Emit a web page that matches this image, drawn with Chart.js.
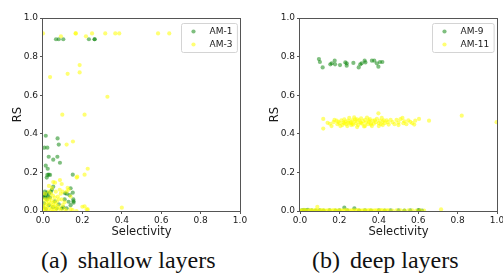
<!DOCTYPE html>
<html>
<head>
<meta charset="utf-8">
<script src="https://cdn.jsdelivr.net/npm/chart.js@4"></script>
<style>
  html, body { margin: 0; padding: 0; background: #fff; }
  #wrap { position: relative; width: 503px; height: 274px; overflow: hidden; }
  canvas { position: absolute; top: 0; }
  .cap { position: absolute; top: 249px; font-family: "Liberation Serif", "Times New Roman", serif;
         font-size: 24px; line-height: 22px; color: #111; white-space: nowrap; }
  .cap span { margin-right: 4px; }
</style>
</head>
<body>
<div id="wrap">
  <canvas id="shallowChart" width="257" height="240" style="left:0"></canvas>
  <canvas id="deepChart" width="246" height="240" style="left:257px"></canvas>
  <div class="cap" style="left:41px"><span>(a)</span> shallow layers</div>
  <div class="cap" style="left:312px"><span>(b)</span> deep layers</div>
</div>
<script>
// etiquetas de los ejes
const tickLabels = ['0.0', '0.2', '0.4', '0.6', '0.8', '1.0'];
const xTitle = 'Selectivity';
const yTitle = 'RS';

// capas superficiales: [selectivity, RS]
const am1Points = [
  [0.066, 0.89], [0.08, 0.89], [0.103, 0.89], [0.233, 0.89], [0.262, 0.89], [0.262, 0.89],
  [0.014, 0.39], [0.074, 0.376], [0.08, 0.344], [0.007, 0.328], [0.022, 0.328], [0.029, 0.281],
  [0.073, 0.281], [0.052, 0.266], [0.086, 0.25], [0.014, 0.235], [0.024, 0.219], [0.022, 0.187],
  [0.036, 0.187], [0.029, 0.188], [0.151, 0.188], [0.019, 0.173],
  [0.052, 0.126], [0.14, 0.118], [0.151, 0.095], [0.112, 0.092], [0.12, 0.09], [0.135, 0.082],
  [0.01, 0.1], [0.02, 0.095], [0.03, 0.09], [0.005, 0.085], [0.015, 0.08], [0.025, 0.075],
  [0.035, 0.07], [0.01, 0.07], [0.0, 0.075], [0.04, 0.1], [0.045, 0.11], [0.02, 0.06],
  [0.154, 0.06], [0.13, 0.048], [0.155, 0.043], [0.155, 0.05], [0.103, 0.019], [0.069, 0.014],
  [0.12, 0.014], [0.096, 0.014], [0.005, 0.04], [0.0, 0.02], [0.03, 0.03], [0.06, 0.05],
  [0.08, 0.035], [0.05, 0.02], [0.015, 0.01], [0.14, 0.03], [0.11, 0.06]
];
const am3Points = [
  [0.0, 0.92], [0.167, 0.92], [0.165, 0.92], [0.091, 0.905], [0.218, 0.905], [0.249, 0.92],
  [0.316, 0.92], [0.367, 0.92], [0.387, 0.92], [0.584, 0.92], [0.641, 0.92],
  [0.036, 0.694], [0.125, 0.711], [0.186, 0.756], [0.186, 0.718], [0.327, 0.592], [0.098, 0.499],
  [0.211, 0.499], [0.12, 0.344], [0.152, 0.36], [0.227, 0.219], [0.211, 0.188], [0.171, 0.173],
  [0.174, 0.178], [0.086, 0.16], [0.061, 0.147], [0.095, 0.14], [0.052, 0.15],
  [0.03, 0.1], [0.04, 0.09], [0.05, 0.08], [0.06, 0.07], [0.02, 0.06], [0.03, 0.05],
  [0.04, 0.04], [0.05, 0.03], [0.06, 0.02], [0.07, 0.01], [0.01, 0.03], [0.02, 0.02],
  [0.03, 0.01], [0.04, 0.005], [0.05, 0.0], [0.06, 0.005], [0.02, 0.0], [0.01, 0.01],
  [0.0, 0.005], [0.035, 0.065], [0.045, 0.055], [0.055, 0.045], [0.065, 0.035], [0.075, 0.025],
  [0.085, 0.015], [0.09, 0.005], [0.1, 0.03], [0.11, 0.01], [0.12, 0.0], [0.025, 0.035],
  [0.015, 0.045], [0.045, 0.02], [0.07, 0.05], [0.08, 0.06], [0.09, 0.09], [0.1, 0.1],
  [0.12, 0.1], [0.13, 0.11], [0.14, 0.075], [0.125, 0.12], [0.2, 0.022], [0.222, 0.009],
  [0.211, 0.024], [0.227, 0.008], [0.4, 0.017], [0.15, 0.005], [0.17, 0.0], [0.0, 0.02],
  [0.005, 0.06], [0.01, 0.09], [0.065, 0.1], [0.075, 0.075], [0.11, 0.045], [0.095, 0.06],
  [0.085, 0.11], [0.14, 0.01], [0.03, 0.13], [0.045, 0.12]
];

// capas profundas: [selectivity, RS]
const am9Points = [
  [0.096, 0.787], [0.101, 0.772], [0.115, 0.744], [0.154, 0.76], [0.161, 0.765], [0.176, 0.779],
  [0.178, 0.76], [0.203, 0.756], [0.23, 0.77], [0.237, 0.765], [0.237, 0.753], [0.271, 0.767],
  [0.298, 0.744], [0.306, 0.76], [0.313, 0.765], [0.328, 0.779], [0.332, 0.77], [0.365, 0.779],
  [0.377, 0.779], [0.39, 0.765], [0.398, 0.748], [0.406, 0.772], [0.418, 0.772],
  [0.01, 0.003], [0.02, 0.005], [0.03, 0.004], [0.04, 0.006], [0.06, 0.003], [0.08, 0.002],
  [0.1, 0.004], [0.12, 0.002], [0.15, 0.003], [0.18, 0.002], [0.2, 0.004], [0.225, 0.017],
  [0.24, 0.003], [0.276, 0.014], [0.3, 0.002], [0.33, 0.003], [0.36, 0.002], [0.4, 0.003],
  [0.43, 0.002], [0.46, 0.004], [0.5, 0.003], [0.53, 0.002], [0.56, 0.003], [0.6, 0.004],
  [0.604, 0.005], [0.62, 0.002]
];
const am11Points = [
  [0.118, 0.477], [0.118, 0.427], [0.14, 0.457], [0.152, 0.452], [0.16, 0.44], [0.17, 0.46],
  [0.175, 0.472], [0.186, 0.468], [0.19, 0.45], [0.195, 0.462], [0.2, 0.455], [0.205, 0.44],
  [0.21, 0.47], [0.215, 0.445], [0.22, 0.458], [0.225, 0.475], [0.225, 0.455], [0.23, 0.463],
  [0.235, 0.45], [0.24, 0.44], [0.245, 0.468], [0.245, 0.458], [0.25, 0.482], [0.255, 0.455],
  [0.26, 0.46], [0.26, 0.445], [0.265, 0.47], [0.265, 0.452], [0.27, 0.448], [0.275, 0.485],
  [0.28, 0.465], [0.28, 0.475], [0.285, 0.455], [0.29, 0.475], [0.29, 0.435], [0.295, 0.445],
  [0.3, 0.47], [0.305, 0.46], [0.31, 0.48], [0.31, 0.456], [0.315, 0.452], [0.32, 0.466],
  [0.325, 0.438], [0.33, 0.472], [0.33, 0.44], [0.335, 0.458], [0.34, 0.484], [0.345, 0.45],
  [0.35, 0.462], [0.35, 0.47], [0.355, 0.476], [0.36, 0.455], [0.36, 0.448], [0.365, 0.44],
  [0.37, 0.468], [0.375, 0.452], [0.38, 0.47], [0.385, 0.46], [0.39, 0.478], [0.398, 0.506],
  [0.4, 0.455], [0.4, 0.44], [0.405, 0.468], [0.41, 0.45], [0.415, 0.482], [0.42, 0.463],
  [0.42, 0.445], [0.425, 0.47], [0.43, 0.455], [0.44, 0.47], [0.445, 0.46], [0.45, 0.448],
  [0.46, 0.472], [0.47, 0.46], [0.48, 0.45], [0.49, 0.472], [0.5, 0.458], [0.5, 0.445],
  [0.51, 0.476], [0.52, 0.482], [0.525, 0.455], [0.53, 0.465], [0.54, 0.45], [0.55, 0.47],
  [0.56, 0.462], [0.57, 0.455], [0.58, 0.448], [0.585, 0.468], [0.604, 0.477], [0.655, 0.468],
  [0.821, 0.494], [0.998, 0.46],
  [0.0, 0.004], [0.01, 0.002], [0.02, 0.006], [0.03, 0.003], [0.04, 0.002], [0.05, 0.005],
  [0.06, 0.003], [0.07, 0.002], [0.08, 0.006], [0.088, 0.022], [0.09, 0.003], [0.1, 0.002],
  [0.11, 0.005], [0.12, 0.003], [0.13, 0.002], [0.14, 0.004], [0.15, 0.003], [0.16, 0.002],
  [0.17, 0.005], [0.18, 0.003], [0.19, 0.002], [0.2, 0.004], [0.21, 0.003], [0.22, 0.002],
  [0.23, 0.005], [0.24, 0.003], [0.25, 0.002], [0.26, 0.004], [0.27, 0.003], [0.28, 0.002],
  [0.29, 0.005], [0.3, 0.003], [0.31, 0.002], [0.32, 0.004], [0.33, 0.003], [0.34, 0.002],
  [0.35, 0.005], [0.36, 0.003], [0.37, 0.002], [0.38, 0.004], [0.39, 0.003], [0.4, 0.002],
  [0.41, 0.005], [0.42, 0.003], [0.43, 0.002], [0.44, 0.004], [0.45, 0.003], [0.47, 0.002],
  [0.49, 0.004], [0.51, 0.003], [0.53, 0.002], [0.55, 0.004], [0.57, 0.003], [0.59, 0.002],
  [0.61, 0.003], [0.63, 0.002], [0.716, 0.009]
];

const greenColor = 'rgba(0, 128, 0, 0.5)';
const yellowColor = 'rgba(255, 255, 0, 0.55)';
const axisColor = '#555';
const textColor = '#1a1a1a';

// Función para pasar [x, y] a puntos de Chart.js
function toXY(list) {
    return list.map(p => ({ x: p[0], y: p[1] }));
}

// marco completo alrededor del área (como los spines de matplotlib)
const framePlugin = {
    id: 'frame',
    beforeDatasetsDraw(chart) {
        let a = chart.chartArea;
        let ctx = chart.ctx;
        ctx.save();
        ctx.strokeStyle = axisColor;
        ctx.lineWidth = 1;
        ctx.strokeRect(Math.round(a.left) - 0.5, Math.round(a.top) + 0.5,
            Math.round(a.right - a.left) + 1, Math.round(a.bottom - a.top));
        ctx.restore();
    }
};

// leyenda dentro del área, arriba a la derecha
const boxLegendPlugin = {
    id: 'boxLegend',
    afterDraw(chart) {
        let a = chart.chartArea;
        let ctx = chart.ctx;
        let sets = chart.data.datasets;
        ctx.save();
        ctx.font = '9px "DejaVu Sans"';
        let textW = Math.max(...sets.map(d => ctx.measureText(d.label).width));
        let w = textW + 33, h = 29;
        let x = Math.round(a.right - 3.5 - w) + 0.5, y = Math.round(a.top + 5) + 0.5;
        ctx.beginPath();
        ctx.roundRect(x, y, w, h, 2);
        ctx.fillStyle = 'rgba(255,255,255,0.8)';
        ctx.fill();
        ctx.strokeStyle = '#d4d4d4';
        ctx.lineWidth = 1;
        ctx.stroke();
        sets.forEach((d, i) => {
            let cy = y + 8 + i * 13;
            ctx.fillStyle = d.backgroundColor;
            ctx.beginPath();
            ctx.arc(x + 12, cy, 2.1, 0, Math.PI * 2);
            ctx.fill();
            ctx.fillStyle = textColor;
            ctx.textBaseline = 'middle';
            ctx.fillText(d.label, x + 28, cy + 0.5);
        });
        ctx.restore();
    }
};

// Función para generar cada gráfica de dispersión
function makeChart(canvasId, names, lists, rightPad) {
    let ctx = document.getElementById(canvasId).getContext('2d');
    let colors = [greenColor, yellowColor];
    let datasets = lists.map((list, i) => ({
        label: names[i],
        data: toXY(list),
        backgroundColor: colors[i],
        borderWidth: 0,
        pointRadius: 2.1,
        order: 2 - i
    }));
    let tickStyle = {
        font: { family: 'DejaVu Sans', size: 9 },
        color: textColor,
        stepSize: 0.2,
        autoSkip: false,
        maxRotation: 0,
        callback: (v, i) => tickLabels[i]
    };
    let titleFont = { family: 'DejaVu Sans', size: 11.5 };
    return new Chart(ctx, {
        type: 'scatter',
        data: { datasets: datasets },
        options: {
            responsive: false,
            animation: false,
            layout: { padding: { left: 0, right: rightPad, top: 18, bottom: 1 } },
            plugins: { legend: { display: false }, tooltip: { enabled: false } },
            scales: {
                x: {
                    min: 0, max: 1,
                    grid: { drawOnChartArea: false, tickLength: 3, color: axisColor },
                    border: { display: false },
                    ticks: Object.assign({ padding: 1 }, tickStyle),
                    title: { display: true, text: xTitle, font: titleFont, color: textColor, padding: 0 },
                    afterFit(s) { s.height = 28; s.paddingLeft = 0; s.paddingRight = 0; }
                },
                y: {
                    min: 0, max: 1,
                    grid: { drawOnChartArea: false, tickLength: 3, color: axisColor },
                    border: { display: false },
                    ticks: Object.assign({ padding: 2 }, tickStyle),
                    title: { display: true, text: yTitle, font: titleFont, color: textColor, padding: { top: 11, bottom: 0 } },
                    afterFit(s) { s.width = 43; s.paddingTop = 0; s.paddingBottom = 0; }
                }
            }
        },
        plugins: [framePlugin, boxLegendPlugin]
    });
}

makeChart('shallowChart', ['AM-1', 'AM-3'], [am1Points, am3Points], 17);
makeChart('deepChart', ['AM-9', 'AM-11'], [am9Points, am11Points], 6);
</script>
</body>
</html>
